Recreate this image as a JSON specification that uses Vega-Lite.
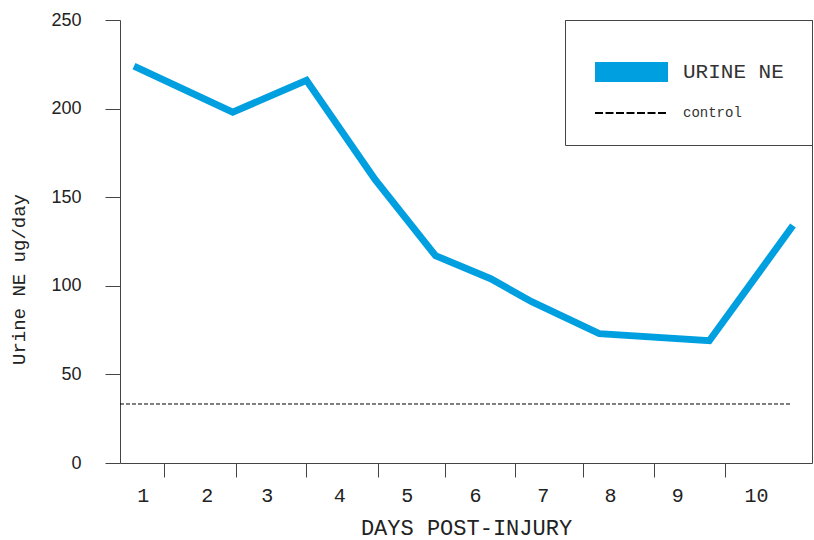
{
  "$schema": "https://vega.github.io/schema/vega-lite/v6.json",
  "width": 692,
  "height": 443,
  "autosize": "none",
  "padding": {"left": 120, "top": 20, "right": 2, "bottom": 77},
  "background": "white",
  "config": {
    "view": {"stroke": "#444", "strokeWidth": 1, "strokeDash": [0, 445, 690, 1200]},
    "axis": {"grid": false, "domainColor": "#444", "tickColor": "#444", "labelColor": "#222", "titleColor": "#222", "titleFontWeight": "normal"},
    "axisY": {"tickSize": 15, "labelPadding": 24,
      "labelFont": "Liberation Sans", "labelFontSize": 18,
      "titleFont": "Liberation Mono", "titleFontSize": 19,
      "titleX": -96, "titleY": 259, "titleAngle": -90, "titleBaseline": "alphabetic", "titleAlign": "center"},
    "legend": {"symbolType": "stroke", "labelFont": "Liberation Mono", "labelColor": "#333"}
  },
  "datasets": {
    "urine": [
      {"t": 0.202, "value": 224, "series": "URINE NE"},
      {"t": 1.629, "value": 198, "series": "URINE NE"},
      {"t": 2.695, "value": 216, "series": "URINE NE"},
      {"t": 3.685, "value": 160, "series": "URINE NE"},
      {"t": 4.559, "value": 117, "series": "URINE NE"},
      {"t": 5.357, "value": 104, "series": "URINE NE"},
      {"t": 5.949, "value": 91, "series": "URINE NE"},
      {"t": 6.926, "value": 73, "series": "URINE NE"},
      {"t": 8.516, "value": 69, "series": "URINE NE"},
      {"t": 9.725, "value": 134, "series": "URINE NE"}
    ],
    "control": [
      {"t": 0, "value": 33.3, "series": "control"},
      {"t": 9.692, "value": 33.3, "series": "control"}
    ]
  },
  "resolve": {"axis": {"x": "independent"}},
  "layer": [
    {
      "data": {"name": "urine"},
      "mark": {"type": "line", "strokeJoin": "miter", "strokeCap": "butt"},
      "encoding": {
        "x": {"field": "t", "type": "quantitative",
          "scale": {"domain": [0, 10], "nice": false, "zero": false},
          "axis": {"orient": "bottom", "values": [0.64, 1.672, 2.688, 3.724, 4.692, 5.704, 6.695, 7.712, 8.738], "labels": false, "title": null, "tickSize": 14}},
        "y": {"field": "value", "type": "quantitative",
          "scale": {"domain": [0, 250], "nice": false},
          "axis": {"orient": "left", "title": "Urine NE ug/day", "values": [0, 50, 100, 150, 200, 250]}},
        "size": {"value": 7},
        "color": {"field": "series", "type": "nominal",
          "scale": {"domain": ["URINE NE"], "range": ["#009FE0"]},
          "legend": {"orient": "none", "legendX": 445, "legendY": 0, "padding": 28,
            "title": " ", "titleOrient": "bottom", "titleFontSize": 14, "titlePadding": 7,
            "clipHeight": 48,
            "symbolSize": 5329, "symbolStrokeWidth": 20, "symbolOffset": -8, "labelOffset": 5,
            "labelFontSize": 21, "strokeColor": "#444", "fillColor": null}}
      }
    },
    {
      "data": {"name": "control"},
      "mark": {"type": "line", "color": "#000000", "strokeDash": [4, 2], "strokeWidth": 1},
      "encoding": {
        "x": {"field": "t", "type": "quantitative",
          "axis": {"orient": "bottom", "values": [0.328, 1.253, 2.12, 3.169, 4.143, 5.13, 6.108, 7.081, 8.054, 9.191],
            "labelExpr": "indexof([0.328, 1.253, 2.12, 3.169, 4.143, 5.13, 6.108, 7.081, 8.054, 9.191], datum.value) + 1",
            "ticks": false, "domain": false, "labelPadding": 22, "labelFont": "Liberation Mono", "labelFontSize": 20,
            "title": "DAYS POST-INJURY", "titleFont": "Liberation Mono", "titleFontSize": 22, "titlePadding": 12}},
        "y": {"field": "value", "type": "quantitative",
          "axis": {"orient": "left", "title": "Urine NE ug/day", "values": [0, 50, 100, 150, 200, 250]}},
        "opacity": {"field": "series", "type": "nominal",
          "scale": {"domain": ["control"], "range": [1]},
          "legend": {"orient": "none", "legendX": 474, "legendY": 83, "padding": 0, "title": null,
            "clipHeight": 20,
            "symbolSize": 5329, "symbolOffset": 0, "symbolStrokeWidth": 2,
            "symbolDash": [8, 2.5],
            "symbolStrokeColor": "#000000",
            "labelOffset": 14, "labelFontSize": 14, "strokeColor": null, "fillColor": null}}
      }
    }
  ]
}
